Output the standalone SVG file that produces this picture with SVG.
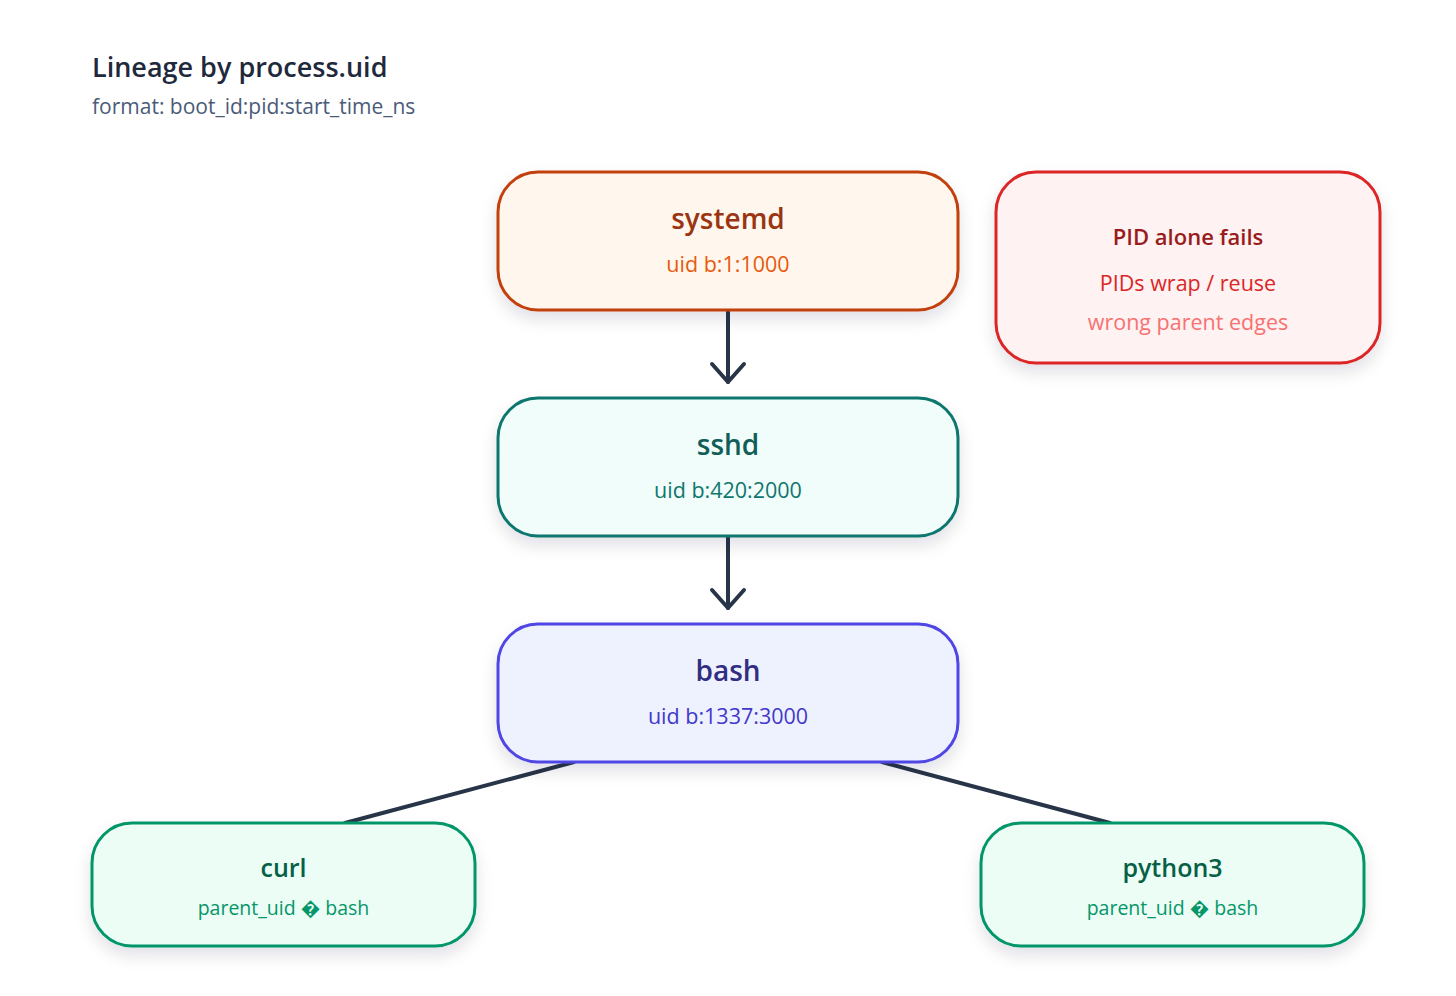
<svg xmlns="http://www.w3.org/2000/svg" width="1456" height="996" viewBox="0 0 1456 996">
<defs>
<filter id="sh" x="-20%" y="-20%" width="140%" height="160%">
<feDropShadow dx="0" dy="8" stdDeviation="8" flood-color="#0f172a" flood-opacity="0.12"/>
</filter>
</defs>
<style>
text{font-family:"Open Sans","Noto Sans","Liberation Sans",sans-serif;text-anchor:middle}
.t{font-weight:600;font-size:28px}
.s{font-size:21.5px}
.c{font-size:19.5px}
.edge{stroke:#283548;stroke-width:4;fill:none;stroke-linecap:round;stroke-linejoin:round}
.box{stroke-width:3}
</style>
<rect width="1456" height="996" fill="#ffffff"/>
<g id="title">
<text x="92" y="77" style="text-anchor:start;font-size:27px;font-weight:600" fill="#1e293b">Lineage by process.uid</text>
<text x="92" y="114" style="text-anchor:start;font-size:21px" fill="#4a5b78">format: boot_id:pid:start_time_ns</text>
</g>
<g id="connectors">
<path class="edge" d="M728 310 V382"/>
<path class="edge" d="M712 364 L728 382 L744 364"/>
<path class="edge" d="M728 536 V608"/>
<path class="edge" d="M712 590 L728 608 L744 590"/>
<path class="edge" d="M574 762 L345 823" stroke-linecap="butt"/>
<path class="edge" d="M882 762 L1110 823" stroke-linecap="butt"/>
</g>
<g id="systemd">
<rect class="box" x="498" y="172" width="460" height="138" rx="40" fill="#fff7ed" stroke="#c2410c" filter="url(#sh)"/>
<text class="t" x="728" y="229" fill="#9a3412">systemd</text>
<text class="s" x="728" y="272" fill="#ea580c">uid b:1:1000</text>
</g>
<g id="pid-alone-fails">
<rect class="box" x="996" y="172" width="384" height="191" rx="40" fill="#fef2f2" stroke="#dc2626" filter="url(#sh)"/>
<text x="1188" y="245" style="font-weight:600;font-size:22px" fill="#991b1b">PID alone fails</text>
<text class="s" x="1188" y="291" fill="#dc2626">PIDs wrap / reuse</text>
<text class="s" x="1188" y="330" fill="#f87171">wrong parent edges</text>
</g>
<g id="sshd">
<rect class="box" x="498" y="398" width="460" height="138" rx="40" fill="#f0fdfa" stroke="#0f766e" filter="url(#sh)"/>
<text class="t" x="728" y="455" fill="#115e59">sshd</text>
<text class="s" x="728" y="498" fill="#0f766e">uid b:420:2000</text>
</g>
<g id="bash">
<rect class="box" x="498" y="624" width="460" height="138" rx="40" fill="#eef2ff" stroke="#4f46e5" filter="url(#sh)"/>
<text class="t" x="728" y="681" fill="#312e81">bash</text>
<text class="s" x="728" y="724" fill="#4338ca">uid b:1337:3000</text>
</g>
<g id="curl">
<rect class="box" x="92" y="823" width="383" height="123" rx="40" fill="#ecfdf5" stroke="#059669" filter="url(#sh)"/>
<text x="283.5" y="877" style="font-weight:600;font-size:25px" fill="#065f46">curl</text>
<text class="c" x="283.5" y="915" fill="#059669">parent_uid � bash</text>
</g>
<g id="python3">
<rect class="box" x="981" y="823" width="383" height="123" rx="40" fill="#ecfdf5" stroke="#059669" filter="url(#sh)"/>
<text x="1172.5" y="877" style="font-weight:600;font-size:25px" fill="#065f46">python3</text>
<text class="c" x="1172.5" y="915" fill="#059669">parent_uid � bash</text>
</g>
</svg>
